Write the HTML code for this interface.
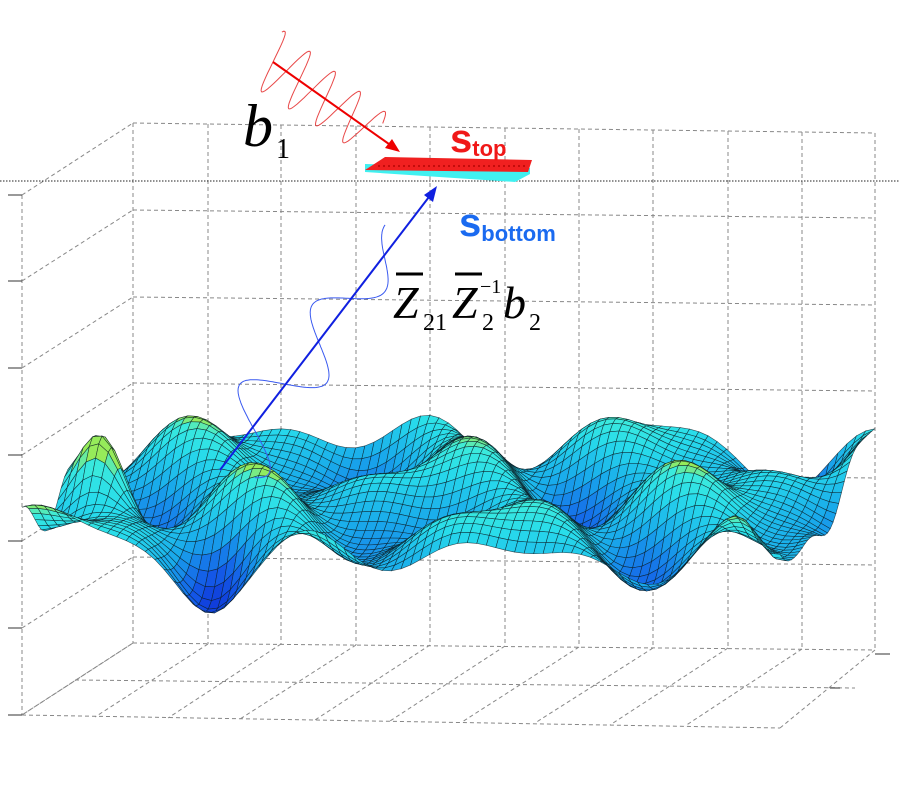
<!DOCTYPE html>
<html><head><meta charset="utf-8"><style>
html,body{margin:0;padding:0;background:#fff;}
svg{display:block;}
</style></head><body>
<svg id="svg" width="900" height="800" viewBox="0 0 900 800" xmlns="http://www.w3.org/2000/svg">
<defs>
<linearGradient id="sg" x1="0" y1="0" x2="0" y2="1">
<stop offset="0" stop-color="#40e0d0"/>
<stop offset="0.4" stop-color="#22c4dc"/>
<stop offset="0.75" stop-color="#1890e8"/>
<stop offset="1" stop-color="#1040d8"/>
</linearGradient>
</defs>
<g stroke="#888" stroke-width="1" stroke-dasharray="4,3" fill="none">
<path d="M133 123V643M208 124V644M281 125V644M356 126V645M430 127V645M505 128V646M579 129V647M653 130V648M728 131V648M802 132V649M875 133V650"/>
<path d="M133 123L875 133M133 210L875 218M133 297L875 305M133 383L875 391M133 470L875 478M133 557L875 565M133 643L875 650"/>
<path d="M22 195L133 123M22 281L133 210M22 368L133 297M22 455L133 383M22 541L133 470M22 628L133 557M22 715L133 643"/>
<path d="M22 195V715"/>
<path d="M75 680L855 688M22 715L780 728"/>
<path d="M133 643L22 715M208 644L95 717M281 644L168 718M356 645L240 719M430 645L315 720M505 646L390 721M579 647L462 722M653 648L535 723M728 648L610 725M802 649L685 726M875 650L780 728"/>
</g>
<g stroke="#333" stroke-width="1">
<path d="M8 195H22M8 281H22M8 368H22M8 455H22M8 541H22M8 628H22M8 715H22"/>
<path d="M875 654H890M830 688H840"/>
</g>
<line x1="0" y1="181" x2="900" y2="181" stroke="#222" stroke-width="1" stroke-dasharray="1.5,1.5"/>
<g id="surfg">
<path id="fallback" d="M22 505 C30 480 55 455 75 445 C90 430 98 425 105 428 C120 440 135 470 160 482 C180 488 200 470 230 468 C260 465 280 432 327 415 C350 420 370 435 408 433 C440 432 470 448 520 455 C560 460 600 430 654 428 C690 432 700 455 740 460 C780 465 800 448 838 448 C850 452 860 462 878 460 L878 500 C860 505 820 540 792 557 L769 597 C750 570 700 572 660 572 C620 570 600 568 574 570 C540 568 500 568 470 568 C400 575 300 570 252 572 C235 580 220 600 207 597 C185 590 170 562 132 562 C90 540 40 520 22 507 Z" fill="url(#sg)"/>
</g>
<g id="waves"></g>
<line x1="273" y1="62" x2="396" y2="149" stroke="#e00" stroke-width="2"/>
<path d="M400 152 L385 148 L392 139 Z" fill="#e00"/>
<path d="M365 172 L515 182 L530 174 L530 168 L365 164 Z" fill="#40f0f0"/>
<path d="M365 170 L385 157 L532 160 L528 172 Z" fill="#f02020"/>
<path d="M378 166 H525" stroke="#a00" stroke-width="1.2" stroke-dasharray="2,3"/>
<text x="450" y="152" font-family="Liberation Sans, sans-serif" font-weight="bold" font-size="40" fill="#f01818">s<tspan font-size="22" dy="4">top</tspan></text>
<text x="243" y="146" font-family="Liberation Serif, serif" font-style="italic" font-size="60" fill="#000">b</text>
<text x="276" y="158" font-family="Liberation Serif, serif" font-size="28" fill="#000">1</text>
<line x1="220" y1="470" x2="432" y2="193" stroke="#1020e0" stroke-width="2"/>
<path d="M437 186 L433 202 L424 195 Z" fill="#1020e0"/>
<text x="459" y="236" font-family="Liberation Sans, sans-serif" font-weight="bold" font-size="40" fill="#1a6af0">s<tspan font-size="22" dy="5">bottom</tspan></text>
<g font-family="Liberation Serif, serif" fill="#000">
<text x="393" y="318" font-size="46" font-style="italic">Z</text>
<line x1="396" y1="274" x2="423" y2="274" stroke="#000" stroke-width="3"/>
<text x="423" y="330" font-size="24">21</text>
<text x="452" y="318" font-size="46" font-style="italic">Z</text>
<line x1="455" y1="274" x2="482" y2="274" stroke="#000" stroke-width="3"/>
<text x="482" y="330" font-size="24">2</text>
<text x="480" y="293" font-size="20">−1</text>
<text x="503" y="318" font-size="46" font-style="italic">b</text>
<text x="529" y="330" font-size="24">2</text>
</g>
</svg>
<script>
(function(){
var NS="http://www.w3.org/2000/svg";
var g=document.getElementById('surfg');
var fb=document.getElementById('fallback');
function H(u,v){
 var P=Math.PI*2;
 var h=20*Math.sin(P*(3.3*u+0.9*v)+0.3)+16*Math.sin(P*(2.1*u-1.4*v)+1.2)+12*Math.sin(P*(5.2*u+1.8*v)+2.0)+8*Math.cos(P*(1.2*u+2.5*v));
 h-=25*Math.exp(-(((u-0.24)/0.05)**2+((v-0.05)/0.15)**2));
 h-=35*Math.exp(-(((u-0.985)/0.03)**2+((v-0.0)/0.12)**2));
 h+=75*Math.exp(-(((u-0.05)/0.045)**2+((v-0.4)/0.13)**2));
 return h;
}
function proj(u,v,h){
 var L=22+111*v, R=780+95*v;
 var x=L+u*(R-L);
 var fy=715-72*v+u*(13-6*v);
 return [x, fy-(168+35*v)-h];
}
function col(t){
 var s=[[0,[10,20,200]],[0.25,[20,90,232]],[0.5,[25,170,235]],[0.75,[40,220,235]],[0.93,[60,235,220]],[1,[150,235,90]]];
 t=Math.max(0,Math.min(1,t));
 for(var i=1;i<s.length;i++){ if(t<=s[i][0]){var a=s[i-1],b=s[i],f=(t-a[0])/(b[0]-a[0]);
  return 'rgb('+[0,1,2].map(function(k){return Math.round(a[1][k]+(b[1][k]-a[1][k])*f)}).join(',')+')';}}
 return 'rgb(150,235,90)';
}
var NU=80,NV=34;
var pts=[],hs=[];
for(var j=0;j<=NV;j++){pts[j]=[];hs[j]=[];for(var i=0;i<=NU;i++){var u=i/NU,v=1-j/NV;var h=H(u,v);hs[j][i]=h;pts[j][i]=proj(u,v,h);}}
var frag=document.createDocumentFragment();
for(var j=0;j<NV;j++){for(var i=0;i<NU;i++){
 var a=pts[j][i],b=pts[j][i+1],c=pts[j+1][i+1],d=pts[j+1][i];
 var h=(hs[j][i]+hs[j][i+1]+hs[j+1][i]+hs[j+1][i+1])/4;
 var dz=(hs[j+1][i]-hs[j][i]);
 var t=(h+80)/130+0.05+dz*0.008;
 var p=document.createElementNS(NS,'path');
 p.setAttribute('d','M'+a[0].toFixed(1)+' '+a[1].toFixed(1)+'L'+b[0].toFixed(1)+' '+b[1].toFixed(1)+'L'+c[0].toFixed(1)+' '+c[1].toFixed(1)+'L'+d[0].toFixed(1)+' '+d[1].toFixed(1)+'Z');
 p.setAttribute('fill',col(t));
 p.setAttribute('stroke','#0a1a22');
 p.setAttribute('stroke-width','0.6');
 p.setAttribute('stroke-opacity','0.75');
 frag.appendChild(p);
}}
fb.parentNode.removeChild(fb);
g.appendChild(frag);
var w=document.getElementById('waves');
function wave(x0,y0,x1,y1,amp0,amp1,lam,start,end,color){
 var dx=x1-x0,dy=y1-y0,L=Math.sqrt(dx*dx+dy*dy),ux=dx/L,uy=dy/L,nx=-uy,ny=ux,d='';
 for(var s=start;s<=end;s+=1){var f=(s-start)/(end-start);var a=amp0+(amp1-amp0)*f;var o=a*Math.sin(2*Math.PI*s/lam);
  var x=x0+ux*s+nx*o,y=y0+uy*s+ny*o;d+=(d?'L':'M')+x.toFixed(1)+' '+y.toFixed(1);}
 var p=document.createElementNS(NS,'path');p.setAttribute('d',d);p.setAttribute('fill','none');p.setAttribute('stroke',color);p.setAttribute('stroke-width','1');w.appendChild(p);
}
wave(220,470,432,193,42,18,108,15,295,'#3a5af0');
wave(273,62,400,152,32,24,32,-10,125,'#e84848');
})();
</script>
</body></html>
